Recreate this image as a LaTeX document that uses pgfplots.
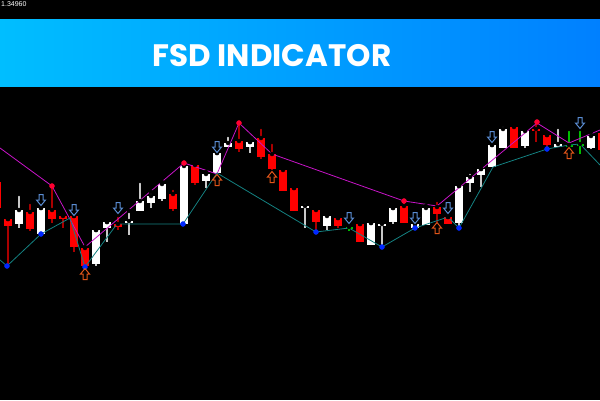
\documentclass[border=0pt]{standalone}
\usepackage{fontspec}
\setmainfont{Poppins}
\newfontfamily\smallsans{Liberation Sans}
\usepackage{pgfplots}
\usepackage{pgfplotstable}
\pgfplotsset{compat=1.18}

\definecolor{candlered}{RGB}{255,0,0}
\definecolor{wickred}{RGB}{170,0,0}
\definecolor{wickgray}{RGB}{200,200,200}
\definecolor{dojigreen}{RGB}{0,190,0}
\definecolor{zzmag}{RGB}{200,20,200}
\definecolor{zzteal}{RGB}{20,130,130}
\definecolor{dotred}{RGB}{255,0,50}
\definecolor{dotblue}{RGB}{0,40,255}
\definecolor{arrblue}{RGB}{90,140,210}
\definecolor{arrorange}{RGB}{225,85,25}
\definecolor{bannerleft}{RGB}{0,190,255}
\definecolor{bannerright}{RGB}{0,128,255}

% hollow block arrows for the signals
\pgfdeclareplotmark{dnarrow}{%
  \pgfpathmoveto{\pgfqpoint{-2pt}{5.5pt}}%
  \pgfpathlineto{\pgfqpoint{2pt}{5.5pt}}%
  \pgfpathlineto{\pgfqpoint{2pt}{0pt}}%
  \pgfpathlineto{\pgfqpoint{4.5pt}{0pt}}%
  \pgfpathlineto{\pgfqpoint{0pt}{-5.5pt}}%
  \pgfpathlineto{\pgfqpoint{-4.5pt}{0pt}}%
  \pgfpathlineto{\pgfqpoint{-2pt}{0pt}}%
  \pgfpathclose
  \pgfusepathqstroke}
\pgfdeclareplotmark{uparrow}{%
  \pgfpathmoveto{\pgfqpoint{-2pt}{-5.5pt}}%
  \pgfpathlineto{\pgfqpoint{2pt}{-5.5pt}}%
  \pgfpathlineto{\pgfqpoint{2pt}{0pt}}%
  \pgfpathlineto{\pgfqpoint{4.5pt}{0pt}}%
  \pgfpathlineto{\pgfqpoint{0pt}{5.5pt}}%
  \pgfpathlineto{\pgfqpoint{-4.5pt}{0pt}}%
  \pgfpathlineto{\pgfqpoint{-2pt}{0pt}}%
  \pgfpathclose
  \pgfusepathqstroke}

% candles in screen units: x, body top, body bottom, wick top, wick bottom
\pgfplotstableread{
x   bt  bb  wt  wb
-3  182 208 178 212
8   219 226 219 265
30  212 229 202 231
52  210 219 186 223
63  216 219 215 228
74  216 247 216 252
85  248 266 247 268
118 224 227 215 230
173 194 209 188 211
195 165 183 164 185
239 141 149 123 152
261 138 157 127 159
272 154 169 142 170
283 170 191 168 191
294 188 211 188 211
316 210 222 207 232
338 218 226 218 228
360 224 242 224 242
404 206 223 201 223
437 207 214 200 222
448 217 224 217 224
514 127 148 124 148
536 129 131 122 142
547 135 145 135 148
602 133 150 133 150
}\redcandles

\pgfplotstableread{
x   bt  bb  wt  wb
19  210 224 194 228
41  208 234 208 234
96  230 264 230 266
107 222 228 222 242
129 221 223 211 235
140 201 211 181 211
151 196 203 192 208
162 184 199 182 201
184 166 224 163 224
206 174 181 172 188
217 153 173 153 173
228 143 147 135 147
250 142 147 142 153
305 206 208 202 228
327 216 226 214 230
371 223 245 223 245
382 224 226 222 246
393 208 222 208 224
415 224 228 224 228
426 208 225 206 225
459 186 223 186 227
470 177 183 172 192
481 169 175 169 187
492 145 167 145 167
503 129 148 125 148
525 131 146 128 148
558 144 147 127 147
591 136 148 132 149
}\whitecandles

\pgfplotstableread{
x   bt  bb  wt  wb
349 227 229 224 231
569 145 147 129 147
580 144 146 129 154
}\dojis

\begin{document}
\begin{tikzpicture}
\fill[black] (0,0) rectangle (600pt,400pt);
\useasboundingbox (0,0) rectangle (600pt,400pt);
\begin{axis}[
    at={(0,0)}, anchor=south west,
    scale only axis, width=600pt, height=400pt,
    xmin=0, xmax=600, ymin=0, ymax=400,
    y dir=reverse,
    hide axis,
    clip=true,
  ]
  % banner
  \fill[left color=bannerleft, right color=bannerright] (axis cs:0,19) rectangle (axis cs:600,86);
  \node[text=white, font=\bfseries\fontsize{31}{31}\selectfont] at (axis cs:272,56) {FSD INDICATOR};
  \node[text=white, anchor=base west, font=\smallsans\fontsize{7}{7}\selectfont, inner sep=0pt] at (axis cs:1,6.5) {1.34960};

  % wicks
  \addplot[forget plot, only marks, mark=none, error bars/.cd, y dir=plus, y explicit, error mark=none,
    error bar style={line width=1.2pt, draw=wickred}]
    table[x=x, y=wt, y error plus expr=\thisrow{wb}-\thisrow{wt}] {\redcandles};
  \addplot[forget plot, only marks, mark=none, error bars/.cd, y dir=plus, y explicit, error mark=none,
    error bar style={line width=1.2pt, draw=wickgray}]
    table[x=x, y=wt, y error plus expr=\thisrow{wb}-\thisrow{wt}] {\whitecandles};
  \addplot[forget plot, only marks, mark=none, error bars/.cd, y dir=plus, y explicit, error mark=none,
    error bar style={line width=1.2pt, draw=dojigreen}]
    table[x=x, y=wt, y error plus expr=\thisrow{wb}-\thisrow{wt}] {\dojis};
  % bodies
  \addplot[forget plot, only marks, mark=none, error bars/.cd, y dir=plus, y explicit, error mark=none,
    error bar style={line width=8pt, draw=candlered}]
    table[x=x, y=bt, y error plus expr=\thisrow{bb}-\thisrow{bt}] {\redcandles};
  \addplot[forget plot, only marks, mark=none, error bars/.cd, y dir=plus, y explicit, error mark=none,
    error bar style={line width=8pt, draw=white}]
    table[x=x, y=bt, y error plus expr=\thisrow{bb}-\thisrow{bt}] {\whitecandles};
  \addplot[forget plot, only marks, mark=none, error bars/.cd, y dir=plus, y explicit, error mark=none,
    error bar style={line width=7pt, draw=dojigreen}]
    table[x=x, y=bt, y error plus expr=\thisrow{bb}-\thisrow{bt}] {\dojis};

  % zigzag lines
  \addplot[zzmag, line width=0.8pt, mark=none] coordinates {
    (0,148) (52,186) (85,247) (184,163) (217,174) (239,123) (272,154)
    (404,201) (437,206) (537,123) (569,143) (600,130)};
  \addplot[zzteal, line width=0.8pt, mark=none] coordinates {
    (0,260) (7,266) (41,234) (70,218) (85,267) (117,224) (183,224) (217,173)
    (316,232) (349,228) (382,247) (415,228) (448,217) (459,228) (493,167)
    (547,149) (569,145) (580,144) (600,165)};

  % swing points
  \addplot[only marks, mark=*, mark size=2.5pt, color=dotred] coordinates {
    (52,186) (184,163) (239,123) (404,201) (537,122)};
  \addplot[only marks, mark=*, mark size=2.5pt, color=dotblue] coordinates {
    (7,266) (41,234) (85,267) (183,224) (316,232) (382,247) (415,228) (459,228) (547,149)};

  % signal arrows
  \addplot[only marks, mark=dnarrow, mark options={draw=arrblue, line width=1pt}] coordinates {
    (41,200) (74,210) (118,208) (217,147) (349,218) (415,218) (448,208) (492,137) (580,123)};
  \addplot[only marks, mark=uparrow, mark options={draw=arrorange, line width=1pt}] coordinates {
    (85,274) (217,180) (272,177) (437,228) (569,153)};
\end{axis}
\end{tikzpicture}
\end{document}
